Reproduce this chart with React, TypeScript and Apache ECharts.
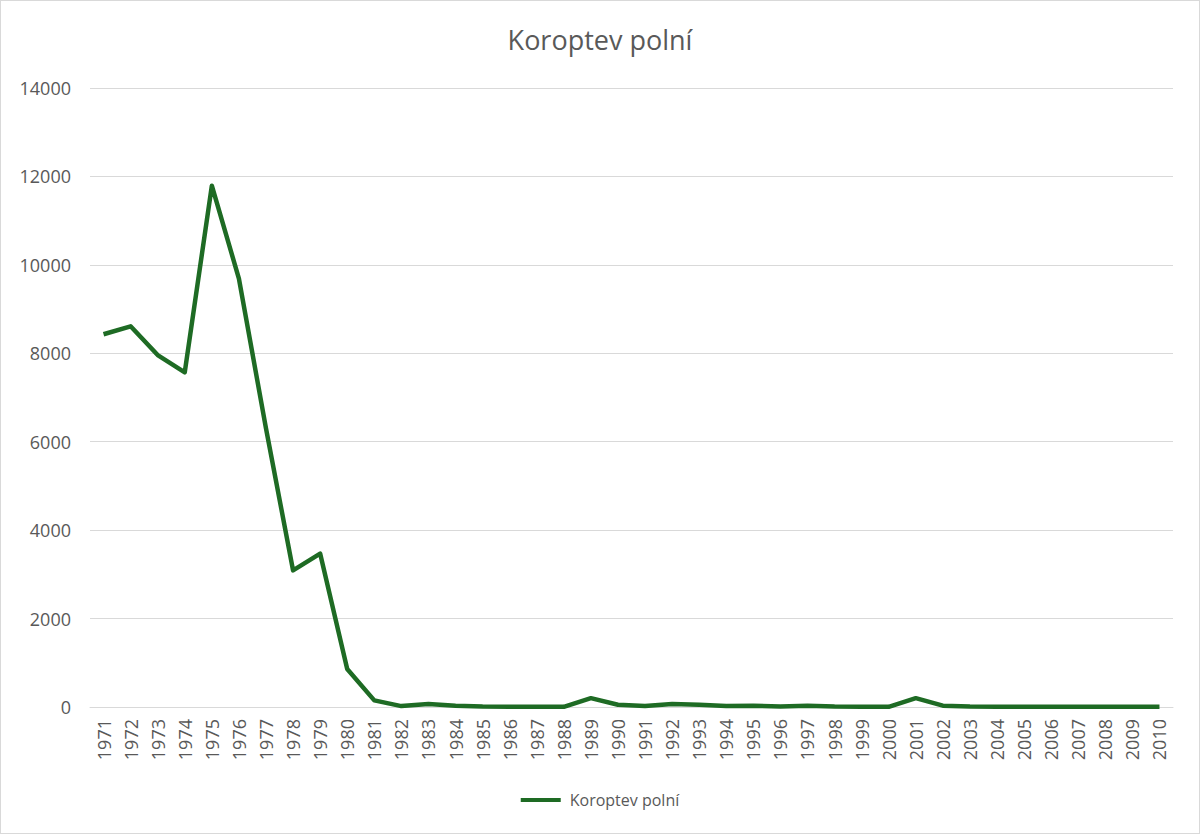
import React, { useEffect, useRef } from "react";
import * as echarts from "echarts";

const years: string[] = [];
for (let y = 1971; y <= 2010; y++) years.push(String(y));

const values = [
  8430, 8610, 7960, 7570, 11790, 9690, 6300, 3090, 3470, 860,
  150, 20, 70, 30, 10, 5, 5, 5, 200, 50,
  20, 70, 50, 20, 30, 10, 30, 10, 5, 5,
  200, 30, 10, 5, 5, 5, 5, 5, 5, 5,
];

const seriesName = "Koroptev polní";
const title = "Koroptev polní";

export default function App() {
  const ref = useRef<HTMLDivElement>(null);
  useEffect(() => {
    document.body.style.margin = "0";
    const chart = echarts.init(ref.current!, undefined, { renderer: "svg" });
    chart.setOption({
      animation: false,
      backgroundColor: "#ffffff",
      textStyle: { fontFamily: "Open Sans, Noto Sans, sans-serif" },
      title: {
        text: title,
        left: "center",
        top: 20,
        textStyle: { fontSize: 27, fontWeight: "normal", color: "#595959" },
      },
      legend: {
        bottom: 20,
        left: "center",
        data: [seriesName],
        icon: "path://M0,0 L10,0 L10,1 L0,1 Z",
        itemWidth: 48,
        itemHeight: 4,
        itemGap: 10,
        textStyle: { fontSize: 16, color: "#595959" },
      },
      grid: { left: 89, right: 26, top: 87, bottom: 126, containLabel: false },
      xAxis: {
        type: "category",
        data: years,
        boundaryGap: true,
        axisLine: { lineStyle: { color: "#d9d9d9", width: 1 } },
        axisTick: { show: false },
        axisLabel: {
          rotate: 90,
          interval: 0,
          fontSize: 18,
          color: "#595959",
          margin: 12,
        },
      },
      yAxis: {
        type: "value",
        min: 0,
        max: 14000,
        interval: 2000,
        axisLine: { show: false },
        axisTick: { show: false },
        axisLabel: {
          fontSize: 18,
          color: "#595959",
          margin: 19,
          formatter: (v: number) => String(v),
        },
        splitLine: { lineStyle: { color: "#d9d9d9", width: 1 } },
      },
      series: [
        {
          name: seriesName,
          type: "line",
          data: values,
          symbol: "none",
          lineStyle: { color: "#1e6b24", width: 4.5, join: "round" },
          itemStyle: { color: "#1e6b24" },
        },
      ],
    });
    return () => chart.dispose();
  }, []);
  return (
    <div
      ref={ref}
      style={{
        position: "absolute",
        left: 0,
        top: 0,
        width: 1200,
        height: 834,
        boxSizing: "border-box",
        border: "1px solid #d9d9d9",
      }}
    />
  );
}
